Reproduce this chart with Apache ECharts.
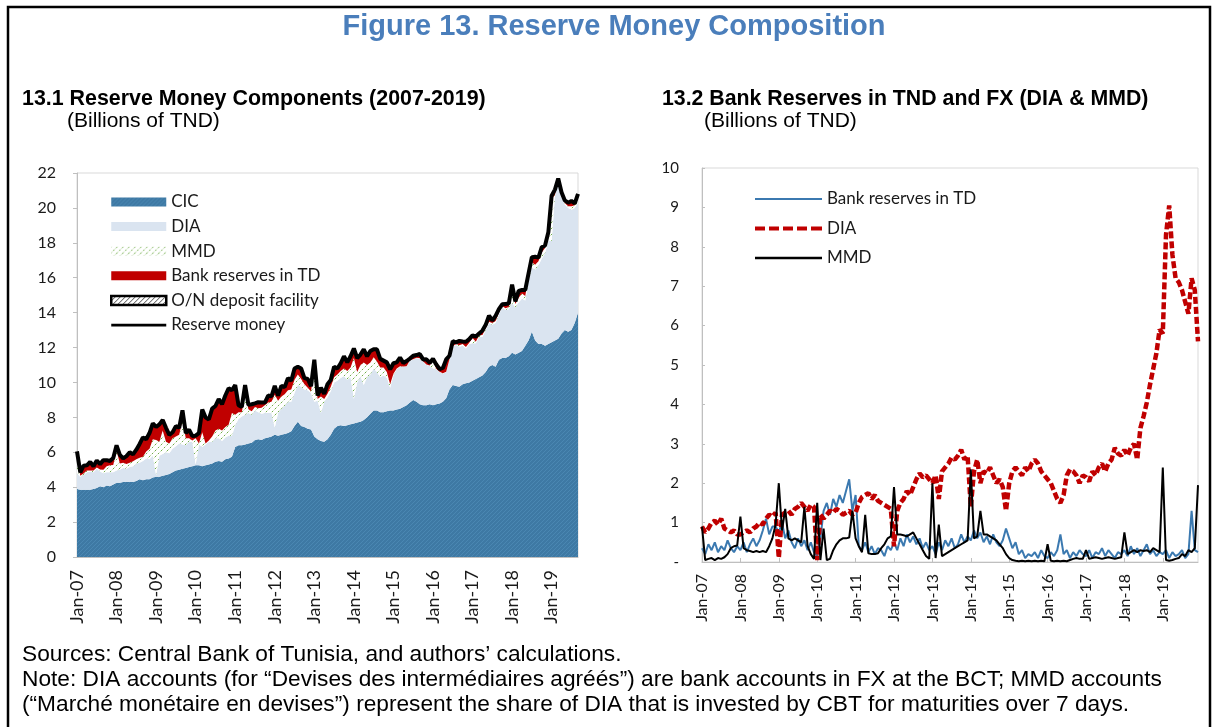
<!DOCTYPE html>
<html>
<head>
<meta charset="utf-8">
<title>Figure 13. Reserve Money Composition</title>
<script src="https://cdn.jsdelivr.net/npm/echarts@6/dist/echarts.min.js"></script>
<style>
  html, body { margin: 0; padding: 0; background: #fff; }
  #main { width: 1213px; height: 727px; }
</style>
</head>
<body>
<div id="main"></div>
<script>
// months Jan-07 .. Dec-19 (13.1 stops at Sep-19)
const years = ['07', '08', '09', '10', '11', '12', '13', '14', '15', '16', '17', '18', '19'];
const monthNames = ['Jan', 'Feb', 'Mar', 'Apr', 'May', 'Jun', 'Jul', 'Aug', 'Sep', 'Oct', 'Nov', 'Dec'];
const months = [];
years.forEach(y => monthNames.forEach(m => months.push(m + '-' + y)));
const leftMonths = months.slice(0, 153);

// 13.1 currency in circulation, Jan-07 .. Sep-19
const cic = [
  3.9, 3.85, 3.85, 3.85, 3.85, 3.9, 3.95, 4.05, 4.0, 4.1, 4.05, 4.15,
  4.25, 4.25, 4.3, 4.3, 4.3, 4.3, 4.35, 4.45, 4.4, 4.45, 4.45, 4.55,
  4.6, 4.6, 4.65, 4.7, 4.75, 4.85, 4.95, 5.0, 5.05, 5.1, 5.15, 5.2,
  5.25, 5.25, 5.2, 5.25, 5.3, 5.35, 5.45, 5.5, 5.45, 5.6, 5.65, 5.75,
  6.3, 6.4, 6.4, 6.45, 6.5, 6.55, 6.7, 6.75, 6.7, 6.8, 6.85, 6.9,
  7.0, 6.95, 7.0, 7.05, 7.1, 7.2, 7.5, 7.75, 7.5, 7.45, 7.35, 7.3,
  6.9, 6.75, 6.65, 6.6, 6.75, 7.0, 7.35, 7.5, 7.55, 7.5, 7.55, 7.6,
  7.65, 7.7, 7.75, 7.85, 8.0, 8.2, 8.4, 8.4, 8.3, 8.3, 8.35, 8.4,
  8.4, 8.45, 8.5, 8.6, 8.7, 8.85, 9.0, 8.9, 8.75, 8.7, 8.7, 8.75,
  8.7, 8.75, 8.8, 8.9, 9.1, 9.6, 9.85, 9.8, 9.75, 9.9, 9.95, 10.0,
  10.1, 10.2, 10.3, 10.4, 10.6, 10.9, 11.0, 10.9, 11.3, 11.4, 11.4, 11.5,
  11.7, 11.6, 11.7, 11.8, 12.1, 12.4, 12.9, 12.4, 12.2, 12.2, 12.1, 12.2,
  12.3, 12.4, 12.5, 12.8, 13.0, 12.9, 13.0, 13.4, 14.0
];

// DIA, Jan-07 .. Dec-19
const dia = [
  0.9, 0.75, 0.85, 1.0, 1.05, 0.95, 1.1, 0.85, 0.8, 0.75, 0.8, 0.7,
  0.7, 0.75, 0.8, 0.75, 0.85, 0.9, 1.0, 0.95, 1.1, 1.2, 1.15, 1.25,
  0.1, 1.2, 1.25, 1.3, 1.2, 1.35, 1.4, 1.5, 1.4, 1.3, 1.45, 1.4,
  0.05, 1.2, 1.1, 1.2, 1.3, 1.25, 1.35, 1.3, 1.2, 1.25, 1.3, 1.2,
  1.25, 1.5, 1.65, 1.7, 1.75, 1.6, 1.7, 1.55, 1.5, 1.45, 1.4, 1.35,
  0.4, 1.3, 1.5, 1.6, 1.8, 1.7, 1.9, 2.1, 2.25, 2.15, 2.2, 2.1,
  2.0, 2.2, 1.6, 2.3, 2.4, 2.5, 2.65, 2.6, 2.7, 2.85, 2.6, 2.7,
  1.4, 2.3, 2.6, 2.0, 2.3, 2.25, 2.4, 2.2, 2.0, 2.1, 1.9, 1.3,
  2.0, 2.3, 2.4, 2.3, 2.2, 2.4, 2.3, 2.5, 2.6, 2.5, 2.3, 2.2,
  2.1, 2.0, 1.8, 1.6, 1.5, 1.7, 2.2, 2.35, 2.3, 2.2, 2.0, 2.2,
  2.15, 2.05, 2.3, 2.2, 2.4, 2.5, 2.3, 2.5, 2.6, 2.9, 2.75, 2.7,
  2.85, 2.7, 2.9, 3.0, 2.6, 3.4, 3.7, 4.05, 4.5, 4.9, 5.3, 5.9,
  5.8, 8.3, 9.05, 7.8, 7.2, 7.1, 6.9, 6.6, 6.3, 7.2, 6.9, 5.6
];

// MMD, Jan-07 .. Dec-19
const mmd = [
  0.9, 0.05, 0.08, 0.1, 0.05, 0.1, 0.08, 0.12, 0.2, 0.35, 0.4, 0.42,
  1.15, 0.35, 0.3, 0.28, 0.25, 0.28, 0.25, 0.28, 0.25, 0.4, 0.6, 0.95,
  2.0, 0.8, 1.35, 0.6, 0.55, 0.6, 0.55, 0.5, 1.4, 0.4, 0.2, 0.08,
  1.5, 0.05, 0.85, 0.05, 0.08, 0.3, 0.45, 0.55, 0.6, 0.6, 0.62, 1.3,
  0.6, 0.4, 0.25, 1.2, 0.22, 0.2, 0.2, 0.22, 0.35, 0.45, 0.6, 0.65,
  1.9, 0.7, 0.7, 0.68, 0.65, 0.7, 0.75, 0.6, 0.45, 0.3, 0.15, 0.08,
  2.0, 0.1, 0.95, 0.15, 0.2, 0.25, 0.3, 0.35, 0.4, 0.45, 0.5, 0.55,
  2.35, 0.6, 0.65, 1.3, 0.7, 0.7, 0.65, 0.6, 0.55, 0.45, 0.35, 0.2,
  0.1, 0.05, 0.03, 0.02, 0.03, 0.02, 0.03, 0.02, 0.03, 0.02, 0.03, 0.02,
  0.45, 0.03, 0.02, 0.03, 0.02, 0.03, 0.02, 0.05, 0.08, 0.1, 0.08, 0.08,
  0.3, 0.08, 0.1, 0.12, 0.1, 0.08, 0.1, 0.12, 0.1, 0.08, 0.1, 0.12,
  0.75, 0.2, 0.25, 0.3, 0.25, 0.3, 0.28, 0.3, 0.25, 0.35, 0.3, 0.25,
  2.4, 0.05, 0.03, 0.05, 0.08, 0.1, 0.2, 0.15, 0.3, 0.25, 0.35, 1.95
];

// bank reserves in TND, Jan-07 .. Dec-19
const bankTD = [
  0.35, 0.2, 0.45, 0.3, 0.5, 0.25, 0.4, 0.3, 0.55, 0.35, 0.25, 0.4,
  0.3, 0.5, 0.25, 0.45, 0.6, 0.4, 0.55, 0.8, 1.1, 0.7, 0.9, 0.9,
  0.75, 1.0, 0.6, 0.8, 0.5, 0.35, 0.6, 0.4, 0.55, 0.3, 0.5, 0.25,
  0.15, 0.6, 1.3, 1.5, 1.2, 1.6, 1.4, 1.7, 1.5, 1.8, 2.1, 1.3,
  1.7, 0.4, 0.3, 0.5, 0.25, 0.4, 0.2, 0.35, 0.3, 0.15, 0.4, 0.3,
  0.5, 0.3, 0.6, 0.4, 0.7, 0.5, 0.65, 0.45, 0.6, 0.35, 0.5, 0.3,
  0.4, 0.2, 0.5, 0.3, 0.55, 0.4, 0.6, 0.35, 0.45, 0.7, 0.5, 0.65,
  0.55, 0.8, 0.6, 0.75, 0.5, 0.65, 0.45, 0.7, 0.5, 0.4, 0.55, 0.85,
  0.6, 0.35, 0.5, 0.2, 0.3, 0.1, 0.2, 0.15, 0.25, 0.1, 0.3, 0.15,
  0.1, 0.25, 0.15, 0.3, 0.7, 0.2, 0.3, 0.1, 0.25, 0.15, 0.3, 0.2,
  0.15, 0.3, 0.1, 0.25, 0.2, 0.35, 0.15, 0.3, 0.2, 0.1, 0.25, 0.2,
  0.3, 0.15, 0.4, 0.2, 0.35, 0.15, 0.3, 0.45, 0.2, 0.3, 0.15, 0.25,
  0.2, 0.3, 0.1, 0.25, 0.15, 0.2, 0.3, 0.1, 0.2, 1.3, 0.3, 0.25
];

// O/N deposit facility: nothing visible over the period
const onDeposit = [];

const yTicksLeft = { min: 0, max: 22, interval: 2 };
const yTicksRight = { min: 0, max: 10, interval: 1 };

// reserve money = top of the 13.1 stack
const reserveMoney = leftMonths.map((m, i) =>
  +(cic[i] + dia[i] + mmd[i] + bankTD[i] + (onDeposit[i] || 0)).toFixed(2));

// hatch fills like the excel ones
function hatch(bg, stroke, size, dash) {
  const c = document.createElement('canvas');
  c.width = size; c.height = size;
  const ctx = c.getContext('2d');
  if (bg) { ctx.fillStyle = bg; ctx.fillRect(0, 0, size, size); }
  ctx.strokeStyle = stroke;
  ctx.lineWidth = 1;
  if (dash) ctx.setLineDash(dash);
  ctx.beginPath();
  ctx.moveTo(-1, size + 1); ctx.lineTo(size + 1, -1);
  ctx.moveTo(-1, 1); ctx.lineTo(1, -1);
  ctx.moveTo(size - 1, size + 1); ctx.lineTo(size + 1, size - 1);
  ctx.stroke();
  return { image: c, repeat: 'repeat' };
}
const cicFill = hatch('#3e79a4', '#4a87b2', 4);
const mmdFill = hatch('#ffffff', '#70ad47', 6, [2, 2]);
const onFill = hatch('#ffffff', '#444444', 5);

const LIGHT = '#dae4f0';
const RED = '#c00000';
const BLUE = '#3b79b0';
const AXIS = '#bfbfbf';
const TXT = '#1a1a1a';
const FONT = '"Liberation Sans", Arial, sans-serif';
const janOnly = i => i % 12 === 0;

function area(name, data, fill) {
  return {
    name: name, type: 'line', stack: 'rm', data: data,
    xAxisIndex: 0, yAxisIndex: 0,
    symbol: 'none', smooth: false,
    itemStyle: { color: fill },
    lineStyle: { width: 0 },
    areaStyle: { color: fill, opacity: 1 }
  };
}

const chart = echarts.init(document.getElementById('main'));
chart.setOption({
  animation: false,
  backgroundColor: '#fff',
  grid: [
    { left: 77, top: 173, width: 501, height: 384, show: true, borderColor: '#d9d9d9', borderWidth: 1 },
    { left: 702, top: 168, width: 496, height: 394, show: true, borderColor: '#d9d9d9', borderWidth: 1 }
  ],
  xAxis: [
    {
      type: 'category', gridIndex: 0, data: leftMonths, boundaryGap: false,
      axisLine: { lineStyle: { color: AXIS } },
      axisTick: { inside: true, length: 5, interval: janOnly, lineStyle: { color: AXIS } },
      axisLabel: { interval: janOnly, rotate: 90, margin: 13, fontFamily: 'Lato', fontSize: 18, color: TXT },
      splitLine: { show: false }
    },
    {
      type: 'category', gridIndex: 1, data: months, boundaryGap: false,
      axisLine: { lineStyle: { color: AXIS } },
      axisTick: { inside: true, length: 4, interval: janOnly, lineStyle: { color: AXIS } },
      axisLabel: { interval: janOnly, rotate: 90, margin: 12, fontFamily: 'Lato', fontSize: 16, color: TXT },
      splitLine: { show: false }
    }
  ],
  yAxis: [
    {
      type: 'value', gridIndex: 0, min: yTicksLeft.min, max: yTicksLeft.max, interval: yTicksLeft.interval,
      axisLine: { show: true, lineStyle: { color: AXIS } },
      axisTick: { show: true, length: 4, lineStyle: { color: AXIS } },
      axisLabel: { margin: 21, fontFamily: 'Lato', fontSize: 16, color: TXT },
      splitLine: { show: false }
    },
    {
      type: 'value', gridIndex: 1, min: yTicksRight.min, max: yTicksRight.max, interval: yTicksRight.interval,
      axisLine: { show: true, lineStyle: { color: AXIS } },
      axisTick: { show: true, inside: true, length: 3, lineStyle: { color: AXIS } },
      axisLabel: { margin: 23, fontFamily: 'Lato', fontSize: 15, color: TXT,
        formatter: v => (v === 0 ? '-' : String(v)) },
      splitLine: { show: false }
    }
  ],
  legend: [
    {
      orient: 'vertical', left: 110, top: 193, padding: 0, itemWidth: 55, itemHeight: 9, itemGap: 6.6,
      selectedMode: false,
      textStyle: { fontFamily: 'Lato', fontSize: 17, color: TXT, lineHeight: 18 },
      data: [
        { name: 'CIC', icon: 'rect', itemStyle: { color: cicFill, borderWidth: 0 } },
        { name: 'DIA', icon: 'rect', itemStyle: { color: LIGHT, borderWidth: 0 } },
        { name: 'MMD', icon: 'rect', itemStyle: { color: mmdFill, borderWidth: 0 } },
        { name: 'Bank reserves in TD', icon: 'rect', itemStyle: { color: RED, borderWidth: 0 } },
        { name: 'O/N deposit facility', icon: 'rect', itemStyle: { color: onFill, borderColor: '#000', borderWidth: 2.5 } },
        { name: 'Reserve money', icon: 'path://M0,0h60v3h-60z', itemStyle: { color: '#000', borderWidth: 0 } }
      ]
    },
    {
      orient: 'vertical', left: 755, top: 190, padding: 0, itemWidth: 67, itemHeight: 10, itemGap: 11.5,
      selectedMode: false,
      formatter: name => name.replace(' (13.2)', ''),
      textStyle: { fontFamily: 'Lato', fontSize: 17, color: TXT, lineHeight: 18 },
      data: [
        { name: 'Bank reserves in TD (13.2)', icon: 'path://M0,0h67v2h-67z', itemStyle: { color: BLUE, borderWidth: 0 } },
        { name: 'DIA (13.2)', icon: 'path://M0,0h10v4h-10zM14,0h10v4h-10zM28,0h10v4h-10zM42,0h10v4h-10zM56,0h11v4h-11z',
          itemStyle: { color: RED, borderWidth: 0 } },
        { name: 'MMD (13.2)', icon: 'path://M0,0h67v2.5h-67z', itemStyle: { color: '#000', borderWidth: 0 } }
      ]
    }
  ],
  series: [
    area('CIC', cic, cicFill),
    area('DIA', dia.slice(0, 153), LIGHT),
    area('MMD', mmd.slice(0, 153), mmdFill),
    area('Bank reserves in TD', bankTD.slice(0, 153), RED),
    area('O/N deposit facility', onDeposit, onFill),
    {
      name: 'Reserve money', type: 'line', data: reserveMoney,
      xAxisIndex: 0, yAxisIndex: 0, symbol: 'none',
      itemStyle: { color: '#000' },
      lineStyle: { color: '#000', width: 4 }, z: 5
    },
    {
      name: 'Bank reserves in TD (13.2)', type: 'line', data: bankTD,
      xAxisIndex: 1, yAxisIndex: 1, symbol: 'none',
      itemStyle: { color: BLUE },
      lineStyle: { color: BLUE, width: 2 }, z: 2
    },
    {
      name: 'DIA (13.2)', type: 'line', data: dia,
      xAxisIndex: 1, yAxisIndex: 1, symbol: 'none',
      itemStyle: { color: RED },
      lineStyle: { color: RED, width: 4.5, type: [7, 3] }, z: 3
    },
    {
      name: 'MMD (13.2)', type: 'line', data: mmd,
      xAxisIndex: 1, yAxisIndex: 1, symbol: 'none',
      itemStyle: { color: '#000' },
      lineStyle: { color: '#000', width: 2 }, z: 4
    }
  ],
  graphic: [
    { type: 'rect', silent: true, z: 100,
      shape: { x: 8, y: 7, width: 1202, height: 740 },
      style: { fill: 'none', stroke: '#000', lineWidth: 2.5 } },
    { type: 'text', x: 614, y: 27,
      style: { text: 'Figure 13. Reserve Money Composition', font: 'bold 29px ' + FONT,
        fill: '#4a7ebb', align: 'center', verticalAlign: 'middle' } },
    { type: 'text', x: 22, y: 99,
      style: { text: '13.1 Reserve Money Components (2007-2019)', font: 'bold 21.4px ' + FONT,
        fill: '#000', verticalAlign: 'middle' } },
    { type: 'text', x: 67, y: 121,
      style: { text: '(Billions of TND)', font: '21px ' + FONT,
        fill: '#000', verticalAlign: 'middle' } },
    { type: 'text', x: 662, y: 99,
      style: { text: '13.2 Bank Reserves in TND and FX (DIA & MMD)', font: 'bold 21.3px ' + FONT,
        fill: '#000', verticalAlign: 'middle' } },
    { type: 'text', x: 704, y: 121,
      style: { text: '(Billions of TND)', font: '21px ' + FONT,
        fill: '#000', verticalAlign: 'middle' } },
    { type: 'text', x: 22, y: 655,
      style: { text: 'Sources: Central Bank of Tunisia, and authors\u2019 calculations.', font: '22.7px ' + FONT,
        fill: '#000', verticalAlign: 'middle' } },
    { type: 'text', x: 22, y: 680,
      style: { text: 'Note: DIA accounts (for \u201cDevises des interm\u00e9diaires agr\u00e9\u00e9s\u201d) are bank accounts in FX at the BCT; MMD accounts',
        font: '22.7px ' + FONT, fill: '#000', verticalAlign: 'middle' } },
    { type: 'text', x: 22, y: 705,
      style: { text: '(\u201cMarch\u00e9 mon\u00e9taire en devises\u201d) represent the share of DIA that is invested by CBT for maturities over 7 days.',
        font: '22.7px ' + FONT, fill: '#000', verticalAlign: 'middle' } }
  ]
});
</script>
</body>
</html>
